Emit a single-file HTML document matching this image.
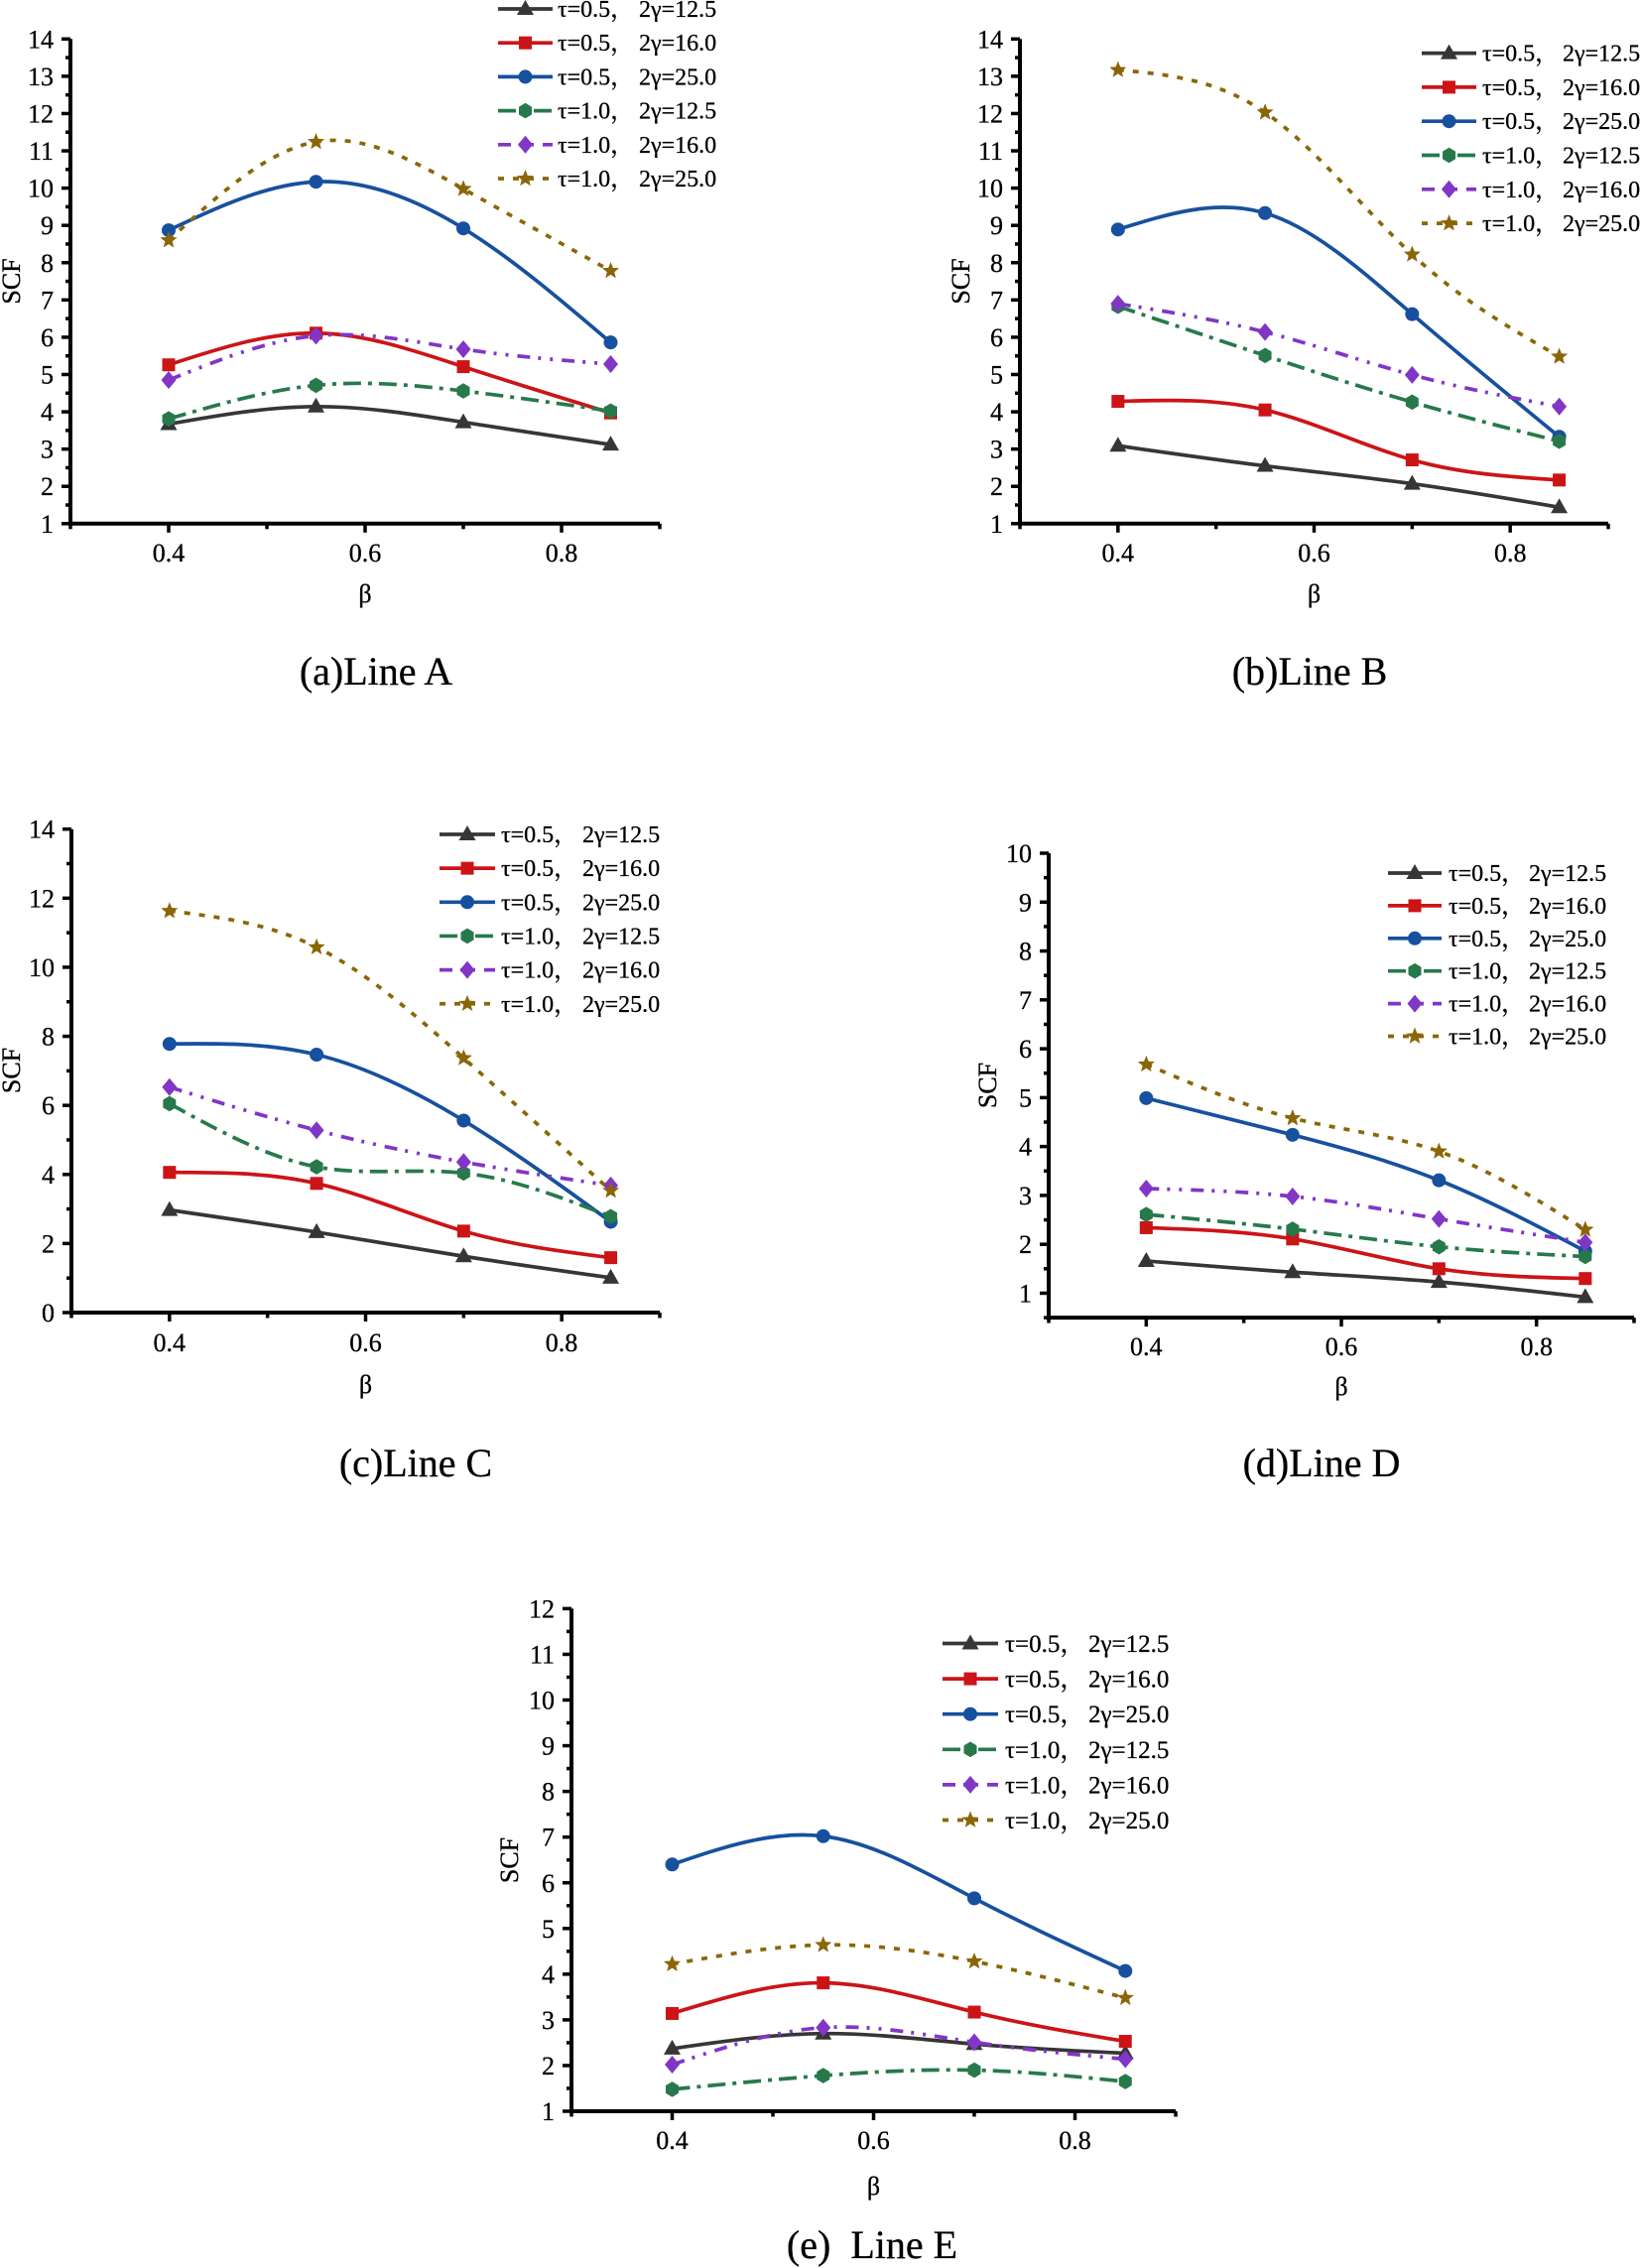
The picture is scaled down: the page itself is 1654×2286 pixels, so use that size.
<!DOCTYPE html>
<html><head><meta charset="utf-8">
<style>
html,body{margin:0;padding:0;background:#fff;}
svg{display:block;}
text{font-family:"Liberation Serif","Noto Serif CJK SC",serif;fill:#000;stroke:#000;stroke-width:0.3px;}
.t{font-size:26px;}
.lg{font-size:24px;}
.lge{font-size:25px;}
.cap{font-size:40px;}
</style></head>
<body>
<svg id="c" xmlns="http://www.w3.org/2000/svg" width="1654" height="2286" viewBox="0 0 1654 2286">
<rect width="1654" height="2286" fill="#fff"/>
<g id="plots"></g>

<!-- Panel a texts -->
<g class="t" text-anchor="end">
<text x="54" y="536.8">1</text><text x="54" y="499.2">2</text><text x="54" y="461.6">3</text><text x="54" y="424.1">4</text><text x="54" y="386.5">5</text><text x="54" y="348.9">6</text><text x="54" y="311.3">7</text><text x="54" y="273.8">8</text><text x="54" y="236.2">9</text><text x="54" y="198.6">10</text><text x="54" y="161">11</text><text x="54" y="123.5">12</text><text x="54" y="85.9">13</text><text x="54" y="48.3">14</text>
</g>
<g class="t" text-anchor="middle">
<text x="170" y="566">0.4</text><text x="368" y="566">0.6</text><text x="566" y="566">0.8</text>
<text x="368" y="607">β</text>
<text transform="translate(20,283.5) rotate(-90)">SCF</text>
</g>
<text class="cap" x="379" y="690" text-anchor="middle">(a)Line A</text>
<g class="lg">
<text x="562" y="17">τ=0.5，</text><text x="644" y="17">2γ=12.5</text>
<text x="562" y="51.2">τ=0.5，</text><text x="644" y="51.2">2γ=16.0</text>
<text x="562" y="85.4">τ=0.5，</text><text x="644" y="85.4">2γ=25.0</text>
<text x="562" y="119.6">τ=1.0，</text><text x="644" y="119.6">2γ=12.5</text>
<text x="562" y="153.8">τ=1.0，</text><text x="644" y="153.8">2γ=16.0</text>
<text x="562" y="188">τ=1.0，</text><text x="644" y="188">2γ=25.0</text>
</g>

<!-- Panel b texts -->
<g class="t" text-anchor="end">
<text x="1011" y="536.8">1</text><text x="1011" y="499.2">2</text><text x="1011" y="461.6">3</text><text x="1011" y="424.1">4</text><text x="1011" y="386.5">5</text><text x="1011" y="348.9">6</text><text x="1011" y="311.3">7</text><text x="1011" y="273.8">8</text><text x="1011" y="236.2">9</text><text x="1011" y="198.6">10</text><text x="1011" y="161">11</text><text x="1011" y="123.5">12</text><text x="1011" y="85.9">13</text><text x="1011" y="48.3">14</text>
</g>
<g class="t" text-anchor="middle">
<text x="1126.8" y="566">0.4</text><text x="1324.5" y="566">0.6</text><text x="1522.2" y="566">0.8</text>
<text x="1324.5" y="607">β</text>
<text transform="translate(977,283.5) rotate(-90)">SCF</text>
</g>
<text class="cap" x="1320" y="690" text-anchor="middle">(b)Line B</text>
<g class="lg">
<text x="1494" y="61.6">τ=0.5，</text><text x="1575" y="61.6">2γ=12.5</text>
<text x="1494" y="95.9">τ=0.5，</text><text x="1575" y="95.9">2γ=16.0</text>
<text x="1494" y="130.2">τ=0.5，</text><text x="1575" y="130.2">2γ=25.0</text>
<text x="1494" y="164.5">τ=1.0，</text><text x="1575" y="164.5">2γ=12.5</text>
<text x="1494" y="198.8">τ=1.0，</text><text x="1575" y="198.8">2γ=16.0</text>
<text x="1494" y="233.1">τ=1.0，</text><text x="1575" y="233.1">2γ=25.0</text>
</g>

<!-- Panel c texts -->
<g class="t" text-anchor="end">
<text x="55" y="1332">0</text><text x="55" y="1262.4">2</text><text x="55" y="1192.8">4</text><text x="55" y="1123.1">6</text><text x="55" y="1053.5">8</text><text x="55" y="983.9">10</text><text x="55" y="914.3">12</text><text x="55" y="844.7">14</text>
</g>
<g class="t" text-anchor="middle">
<text x="170.8" y="1362">0.4</text><text x="368.5" y="1362">0.6</text><text x="566" y="1362">0.8</text>
<text x="368.5" y="1404">β</text>
<text transform="translate(20,1079) rotate(-90)">SCF</text>
</g>
<text class="cap" x="419" y="1488" text-anchor="middle">(c)Line C</text>
<g class="lg">
<text x="505" y="849">τ=0.5，</text><text x="587" y="849">2γ=12.5</text>
<text x="505" y="883.2">τ=0.5，</text><text x="587" y="883.2">2γ=16.0</text>
<text x="505" y="917.3">τ=0.5，</text><text x="587" y="917.3">2γ=25.0</text>
<text x="505" y="951.5">τ=1.0，</text><text x="587" y="951.5">2γ=12.5</text>
<text x="505" y="985.6">τ=1.0，</text><text x="587" y="985.6">2γ=16.0</text>
<text x="505" y="1019.8">τ=1.0，</text><text x="587" y="1019.8">2γ=25.0</text>
</g>

<!-- Panel d texts -->
<g class="t" text-anchor="end">
<text x="1040" y="1312.5">1</text><text x="1040" y="1263.2">2</text><text x="1040" y="1213.9">3</text><text x="1040" y="1164.7">4</text><text x="1040" y="1115.4">5</text><text x="1040" y="1066.1">6</text><text x="1040" y="1016.8">7</text><text x="1040" y="967.5">8</text><text x="1040" y="918.3">9</text><text x="1040" y="869">10</text>
</g>
<g class="t" text-anchor="middle">
<text x="1155.3" y="1366">0.4</text><text x="1352" y="1366">0.6</text><text x="1548.7" y="1366">0.8</text>
<text x="1352" y="1406">β</text>
<text transform="translate(1004,1094) rotate(-90)">SCF</text>
</g>
<text class="cap" x="1332" y="1488" text-anchor="middle">(d)Line D</text>
<g class="lg">
<text x="1460" y="888">τ=0.5，</text><text x="1541" y="888">2γ=12.5</text>
<text x="1460" y="920.9">τ=0.5，</text><text x="1541" y="920.9">2γ=16.0</text>
<text x="1460" y="953.8">τ=0.5，</text><text x="1541" y="953.8">2γ=25.0</text>
<text x="1460" y="986.7">τ=1.0，</text><text x="1541" y="986.7">2γ=12.5</text>
<text x="1460" y="1019.6">τ=1.0，</text><text x="1541" y="1019.6">2γ=16.0</text>
<text x="1460" y="1052.5">τ=1.0，</text><text x="1541" y="1052.5">2γ=25.0</text>
</g>

<!-- Panel e texts -->
<g class="t" text-anchor="end">
<text x="559" y="2137">1</text><text x="559" y="2091">2</text><text x="559" y="2044.9">3</text><text x="559" y="1998.9">4</text><text x="559" y="1952.8">5</text><text x="559" y="1906.8">6</text><text x="559" y="1860.7">7</text><text x="559" y="1814.7">8</text><text x="559" y="1768.6">9</text><text x="559" y="1722.6">10</text><text x="559" y="1676.5">11</text><text x="559" y="1630.5">12</text>
</g>
<g class="t" text-anchor="middle">
<text x="677.5" y="2166">0.4</text><text x="880.5" y="2166">0.6</text><text x="1083.5" y="2166">0.8</text>
<text x="880.5" y="2212">β</text>
<text transform="translate(522,1875) rotate(-90)">SCF</text>
</g>
<text class="cap" x="879" y="2276" text-anchor="middle" xml:space="preserve">(e)  Line E</text>
<g class="lge">
<text x="1013" y="1665">τ=0.5，</text><text x="1097" y="1665">2γ=12.5</text>
<text x="1013" y="1700.6">τ=0.5，</text><text x="1097" y="1700.6">2γ=16.0</text>
<text x="1013" y="1736.2">τ=0.5，</text><text x="1097" y="1736.2">2γ=25.0</text>
<text x="1013" y="1771.8">τ=1.0，</text><text x="1097" y="1771.8">2γ=12.5</text>
<text x="1013" y="1807.4">τ=1.0，</text><text x="1097" y="1807.4">2γ=16.0</text>
<text x="1013" y="1843">τ=1.0，</text><text x="1097" y="1843">2γ=25.0</text>
</g>
</svg>

<script>
(function(){
var NS='http://www.w3.org/2000/svg';
var root=document.getElementById('plots');
var S=[
 {c:'#363636',d:null,m:'tri'},
 {c:'#cc1417',d:null,m:'sq'},
 {c:'#17509e',d:null,m:'circ'},
 {c:'#27794b',d:'18 7 4 7',m:'hex'},
 {c:'#8136c6',d:'13 8 3 9 3 9',m:'dia'},
 {c:'#8b6608',d:'6 9',m:'star'}
];
var P=[
 {x0:71,x1:665,yv0:1,yp0:527.8,yv1:14,yp1:39.3,maj:1,min:0.5,
  lg:{x0:502,x1:557,y0:9,dy:34.2},
  data:[[3.67,4.14,3.72,3.12],[5.26,6.11,5.21,3.97],[8.87,10.17,8.92,5.86],[3.81,4.71,4.56,4.02],[4.85,6.04,5.68,5.28],[8.60,11.24,9.98,7.78]]},
 {x0:1028,x1:1621,yv0:1,yp0:527.8,yv1:14,yp1:39.3,maj:1,min:0.5,
  lg:{x0:1433,x1:1488,y0:53.6,dy:34.3},
  data:[[3.09,2.55,2.07,1.44],[4.28,4.05,2.71,2.17],[8.89,9.33,6.62,3.33],[6.83,5.51,4.26,3.21],[6.90,6.14,4.99,4.14],[13.17,12.03,8.22,5.48]]},
 {x0:72,x1:665,yv0:0,yp0:1323,yv1:14,yp1:835.7,maj:2,min:1,
  lg:{x0:443,x1:499,y0:841,dy:34.15},
  data:[[2.97,2.33,1.63,1.01],[4.06,3.74,2.36,1.59],[7.78,7.47,5.56,2.63],[6.05,4.22,4.04,2.78],[6.53,5.28,4.36,3.68],[11.63,10.58,7.37,3.53]]},
 {x0:1057,x1:1647,yv0:0.5,yp0:1328.1,yv1:10,yp1:860,maj:1,min:0.5,
  lg:{x0:1399,x1:1453,y0:880,dy:32.9},
  data:[[1.66,1.43,1.23,0.92],[2.34,2.11,1.50,1.30],[4.99,4.24,3.31,1.86],[2.61,2.31,1.95,1.75],[3.14,2.98,2.52,2.04],[5.68,4.58,3.90,2.30]]},
 {x0:576,x1:1185,yv0:1,yp0:2128,yv1:12,yp1:1621.4,maj:1,min:0.5,
  lg:{x0:950,x1:1006,y0:1656.5,dy:35.6},
  data:[[2.37,2.70,2.47,2.27],[3.14,3.81,3.17,2.53],[6.40,7.02,5.66,4.07],[1.48,1.78,1.90,1.65],[2.02,2.83,2.51,2.14],[4.22,4.64,4.28,3.48]]}
];
function el(tag,attrs,parent){var e=document.createElementNS(NS,tag);for(var k in attrs)e.setAttribute(k,attrs[k]);(parent||root).appendChild(e);return e;}
function mx(p,b){return p.x0+(b-0.3)*(p.x1-p.x0)/0.6;}
function my(p,v){return p.yp0+(v-p.yv0)*(p.yp1-p.yp0)/(p.yv1-p.yv0);}
function spline(pts){
 var n=pts.length,h=pts[1][0]-pts[0][0],M=[];for(var i=0;i<n;i++)M.push(0);
 var m=n-2,a=[],b=[],c=[],d=[];
 for(i=1;i<n-1;i++){a.push(1);b.push(4);c.push(1);d.push(6/(h*h)*(pts[i+1][1]-2*pts[i][1]+pts[i-1][1]));}
 var cp=[],dp=[];
 for(i=0;i<m;i++){var den=b[i]-(i>0?a[i]*cp[i-1]:0);cp[i]=c[i]/den;dp[i]=(d[i]-(i>0?a[i]*dp[i-1]:0))/den;}
 var sol=[];for(i=m-1;i>=0;i--){sol[i]=dp[i]-(i<m-1?cp[i]*sol[i+1]:0);}
 for(i=0;i<m;i++)M[i+1]=sol[i];
 var s='M'+pts[0][0].toFixed(2)+','+pts[0][1].toFixed(2);
 for(i=0;i<n-1;i++){
  var x0=pts[i][0],y0=pts[i][1],x1=pts[i+1][0],y1=pts[i+1][1];
  var d0=(y1-y0)/h-h*(2*M[i]+M[i+1])/6;
  var d1=(y1-y0)/h+h*(M[i]+2*M[i+1])/6;
  s+=' C'+(x0+h/3).toFixed(2)+','+(y0+d0*h/3).toFixed(2)+' '+(x1-h/3).toFixed(2)+','+(y1-d1*h/3).toFixed(2)+' '+x1.toFixed(2)+','+y1.toFixed(2);
 }
 return s;
}
function poly(pts,x,y){return pts.map(function(q){return (x+q[0]).toFixed(2)+','+(y+q[1]).toFixed(2);}).join(' ');}
function marker(t,x,y,col){
 if(t==='tri')el('polygon',{points:poly([[0,-9],[8.5,6],[-8.5,6]],x,y),fill:col});
 else if(t==='sq')el('rect',{x:x-6.5,y:y-6.5,width:13,height:13,fill:col});
 else if(t==='circ')el('circle',{cx:x,cy:y,r:7,fill:col});
 else if(t==='hex'){var h=[];for(var k=0;k<6;k++){var an=(-90+60*k)*Math.PI/180;h.push([7.5*Math.cos(an),7.8*Math.sin(an)]);}el('polygon',{points:poly(h,x,y),fill:col});}
 else if(t==='dia')el('polygon',{points:poly([[0,-9],[7.5,0],[0,9],[-7.5,0]],x,y),fill:col});
 else if(t==='star'){var s=[];for(var k2=0;k2<10;k2++){var r=k2%2?3.9:9;var an2=(-90+36*k2)*Math.PI/180;s.push([r*Math.cos(an2),r*Math.sin(an2)]);}el('polygon',{points:poly(s,x,y),fill:col});}
}
P.forEach(function(p){
 var yb=p.yp0, yt=p.yp1;
 el('line',{x1:p.x0,y1:yt,x2:p.x0,y2:yb+2,stroke:'#000','stroke-width':4});
 el('line',{x1:p.x0-2,y1:yb,x2:p.x1,y2:yb,stroke:'#000','stroke-width':4});
 var steps=Math.round((p.yv1-p.yv0)/p.min);
 for(var i=0;i<=steps;i++){
  var v=p.yv0+i*p.min;var y=my(p,v);
  var isMaj=Math.abs(v/p.maj-Math.round(v/p.maj))<1e-6;
  el('line',{x1:p.x0,y1:y,x2:p.x0-(isMaj?9:5),y2:y,stroke:'#000','stroke-width':3.5});
 }
 [0.3,0.4,0.5,0.6,0.7,0.8,0.9].forEach(function(b,j){
  var x=mx(p,b);var maj=(j%2===1);
  el('line',{x1:x,y1:yb,x2:x,y2:yb+(maj?9:5.5),stroke:'#000','stroke-width':3.5});
 });
 var bs=[0.4,0.55,0.7,0.85];
 p.data.forEach(function(ds,si){
  var st=S[si];
  var pts=ds.map(function(v,k){return [mx(p,bs[k]),my(p,v)];});
  var at={d:spline(pts),fill:'none',stroke:st.c,'stroke-width':3.7,'stroke-linejoin':'round'};
  if(st.d)at['stroke-dasharray']=st.d;
  el('path',at);
  pts.forEach(function(q){marker(st.m,q[0],q[1],st.c);});
 });
 S.forEach(function(st,si){
  var y=p.lg.y0+si*p.lg.dy;
  var at={x1:p.lg.x0,y1:y,x2:p.lg.x1,y2:y,stroke:st.c,'stroke-width':3.7};
  if(st.d)at['stroke-dasharray']=st.d;
  el('line',at);
  marker(st.m,(p.lg.x0+p.lg.x1)/2,y,st.c);
 });
});
})();
</script>
</body></html>
